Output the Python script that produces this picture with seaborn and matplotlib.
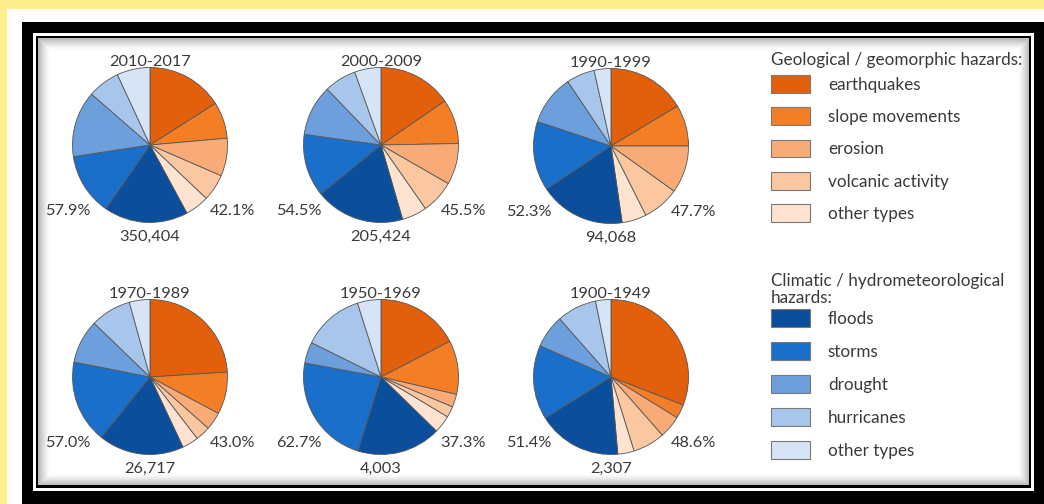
import matplotlib
matplotlib.use("Agg")
import matplotlib.pyplot as plt
import seaborn as sns
from matplotlib.patches import Rectangle, Patch

# Data: share of events (%) per hazard type, clockwise from 12 o'clock
periods = ["2010-2017", "2000-2009", "1990-1999", "1970-1989", "1950-1969", "1900-1949"]
totals = ["350,404", "205,424", "94,068", "26,717", "4,003", "2,307"]

geo_labels = ["earthquakes", "slope movements", "erosion", "volcanic activity", "other types"]
clim_labels = ["floods", "storms", "drought", "hurricanes", "other types"]

geo_shares = [
    [16.0, 7.6, 7.9, 5.6, 5.0],
    [15.4, 9.3, 8.6, 7.0, 5.2],
    [16.4, 8.6, 9.9, 7.7, 5.1],
    [24.0, 8.8, 3.7, 3.1, 3.4],
    [17.4, 11.2, 2.7, 2.3, 3.7],
    [30.9, 2.9, 4.7, 6.7, 3.4],
]
clim_shares = [
    [17.5, 13.0, 13.8, 6.7, 6.9],
    [18.6, 13.1, 10.6, 6.7, 5.5],
    [17.9, 14.5, 10.5, 5.9, 3.5],
    [17.8, 17.3, 9.1, 8.5, 4.3],
    [17.5, 23.1, 4.4, 12.8, 4.9],
    [17.5, 15.5, 6.9, 8.3, 3.2],
]

geo_colors = ["#E2600C", "#F47E26", "#F8AB76", "#FBC7A0", "#FDE3D0"]
clim_colors = ["#0B4E9B", "#1A6FCA", "#6C9FDB", "#A8C6EB", "#D6E4F6"]

sns.set_theme(style="white")
plt.rcParams["font.family"] = ["Lato", "DejaVu Sans"]
txt_color = "#3a3a3a"
pie_fs = 11.8
leg_fs = 12.3

W, H = 1044, 504
fig = plt.figure(figsize=(W / 100, H / 100), dpi=100, facecolor="#FFEE8C")

# frame / background in pixel coordinates
bg = fig.add_axes([0, 0, 1, 1], zorder=-1)
bg.set_xlim(0, W)
bg.set_ylim(H, 0)
bg.axis("off")
bg.add_patch(Rectangle((7, 9), W - 7, H - 9, facecolor="white", edgecolor="none"))
bg.add_patch(Rectangle((22, 22), W - 22, H - 22, facecolor="black", edgecolor="none"))
bg.add_patch(Rectangle((33, 33), 1001, 458, facecolor="white", edgecolor="none"))
bg.add_patch(Rectangle((36, 36), 995, 452, facecolor="black", edgecolor="none"))
bg.add_patch(Rectangle((38, 38), 991, 447, facecolor="white", edgecolor="none"))
# soft inner shadow of the panel
n_sh = 12
for i in range(n_sh):
    bg.add_patch(Rectangle((38 + i, 38 + i), 991 - 2 * i, 447 - 2 * i, fill=False,
                           edgecolor="black", linewidth=1.0,
                           alpha=0.22 * (1 - i / n_sh) ** 1.5))

# pie centres (pixels) and radius
centers = [(150, 145), (381, 145), (611, 146), (150, 377), (381, 377), (611, 377)]
R = 77.5

for k, (cx, cy) in enumerate(centers):
    ax = fig.add_axes([(cx - R) / W, 1 - (cy + R) / H, 2 * R / W, 2 * R / H])
    vals = geo_shares[k] + clim_shares[k]
    ax.pie(vals, colors=geo_colors + clim_colors, startangle=90, counterclock=False,
           radius=1, wedgeprops=dict(edgecolor="#555555", linewidth=0.6))
    ax.set_xlim(-1, 1)
    ax.set_ylim(-1, 1)
    ax.text(0, 1.075, periods[k], ha="center", va="center", fontsize=pie_fs,
            color=txt_color, clip_on=False)
    ax.text(-1.06, -0.855, f"{sum(clim_shares[k]):.1f}%", ha="center", va="center",
            fontsize=pie_fs, color=txt_color, clip_on=False)
    ax.text(1.06, -0.855, f"{sum(geo_shares[k]):.1f}%", ha="center", va="center",
            fontsize=pie_fs, color=txt_color, clip_on=False)
    ax.text(0, -1.19, totals[k], ha="center", va="center", fontsize=pie_fs,
            color=txt_color, clip_on=False)

# legends
def make_handles(colors):
    return [Patch(facecolor=c, edgecolor="#7a7a7a", linewidth=0.8) for c in colors]

leg_kw = dict(frameon=False, fontsize=leg_fs, handlelength=2.28, handleheight=1.2,
              handletextpad=1.05, alignment="left", borderpad=0, borderaxespad=0,
              labelcolor=txt_color, loc="center left")

fig.text(771 / W, 1 - 60.5 / H, "Geological / geomorphic hazards:", fontsize=leg_fs,
         color=txt_color, ha="left", va="center")
fig.legend(make_handles(geo_colors), geo_labels, labelspacing=0.865,
           bbox_to_anchor=(771 / W, 1 - 148.5 / H), **leg_kw)

fig.text(771 / W, 1 - 281 / H, "Climatic / hydrometeorological", fontsize=leg_fs,
         color=txt_color, ha="left", va="center")
fig.text(771 / W, 1 - 298 / H, "hazards:", fontsize=leg_fs,
         color=txt_color, ha="left", va="center")
fig.legend(make_handles(clim_colors), clim_labels, labelspacing=0.905,
           bbox_to_anchor=(771 / W, 1 - 384 / H), **leg_kw)

fig.savefig("out.png", dpi=100, facecolor=fig.get_facecolor())
